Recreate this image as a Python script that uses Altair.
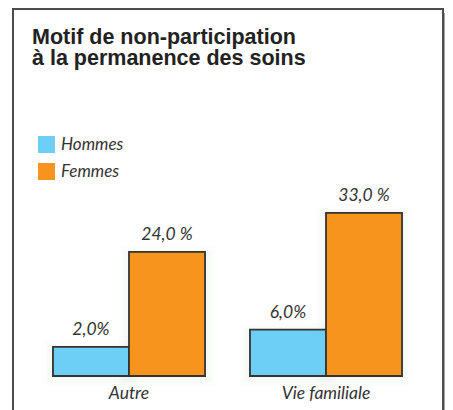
import altair as alt
import pandas as pd

categories = ["Autre", "Autre", "Vie familiale", "Vie familiale"]
sexes = ["Hommes", "Femmes", "Hommes", "Femmes"]
values = [2.0, 24.0, 6.0, 33.0]
labels = ["2,0%", "24,0 %", "6,0%", "33,0 %"]

sex_order = ["Hommes", "Femmes"]
sex_colors = ["#6dcff6", "#f7941d"]
cat_order = ["Autre", "Vie familiale"]

df = pd.DataFrame({"cat": categories, "sexe": sexes, "val": values, "lab": labels})

W, H = 430, 420
BASE = 367  # pixel of y-scale minimum inside the view
ymin = -4.75

x = alt.X("cat:N", sort=cat_order,
          scale=alt.Scale(domain=cat_order, range=[17.5, 411.5], paddingInner=0.228, paddingOuter=0.114),
          axis=alt.Axis(title=None, orient="bottom", offset=BASE - H, domain=False, ticks=False,
                        labelAngle=0, labelPadding=8, labelFont="Lato", labelFontStyle="italic",
                        labelFontSize=17.5, labelColor="#333333"))
xo = alt.XOffset("sexe:N", sort=sex_order, scale=alt.Scale(domain=sex_order, paddingInner=0, paddingOuter=0))
y = alt.Y("val:Q", scale=alt.Scale(domain=[ymin, 80.2], range=[BASE, 0], nice=False, zero=False), axis=None)

base = alt.Chart(df)

glows = [
    base.mark_bar(color="#7f9a6a", opacity=0.13, stroke="#7f9a6a", strokeOpacity=0.13,
                  strokeWidth=sw, yOffset=4).encode(
        x=x, xOffset=xo, y=y, y2=alt.datum(ymin))
    for sw in (20, 13, 7)
]

bars = base.mark_bar(stroke="#333333", strokeWidth=1.8, cornerRadius=0).encode(
    x=x, xOffset=xo, y=y, y2=alt.datum(ymin),
    color=alt.Color("sexe:N", sort=sex_order,
                    scale=alt.Scale(domain=sex_order, range=sex_colors),
                    legend=alt.Legend(title=None, orient="none", legendX=25, legendY=127,
                                      symbolType="square", symbolSize=289, symbolStrokeWidth=0,
                                      symbolOpacity=1, labelFont="Lato", labelFontStyle="italic",
                                      labelFontSize=17, labelColor="#333333", labelOffset=6,
                                      rowPadding=9, padding=0)),
)

texts = base.mark_text(dy=-12, baseline="alphabetic", font="Lato", fontStyle="italic",
                       fontSize=17.5, color="#333333").encode(
    x=x, xOffset=xo, y=y, text="lab:N")

shadow = alt.Chart(pd.DataFrame({"a": [0]})).mark_rect(color="#9a9a9a", opacity=0.9).encode(
    x=alt.value(W + 1), x2=alt.value(W + 3), y=alt.value(4), y2=alt.value(H))

chart = alt.layer(shadow, *glows, bars, texts).properties(
    width=W, height=H,
    autosize="none",
    padding={"left": 5, "top": 1, "right": 2, "bottom": 0},
    title=alt.TitleParams(
        text=["Motif de non-participation", "à la permanence des soins"],
        anchor="start", frame="group", font="Liberation Sans", fontWeight="bold",
        fontSize=21.5, color="#222222", lineHeight=20.5, dx=19, dy=60, baseline="top", offset=0),
).configure_view(stroke="#4d4d4d", strokeWidth=2, fill="white")

chart.save("out.html", embed_options={"renderer": "svg", "actions": False})
